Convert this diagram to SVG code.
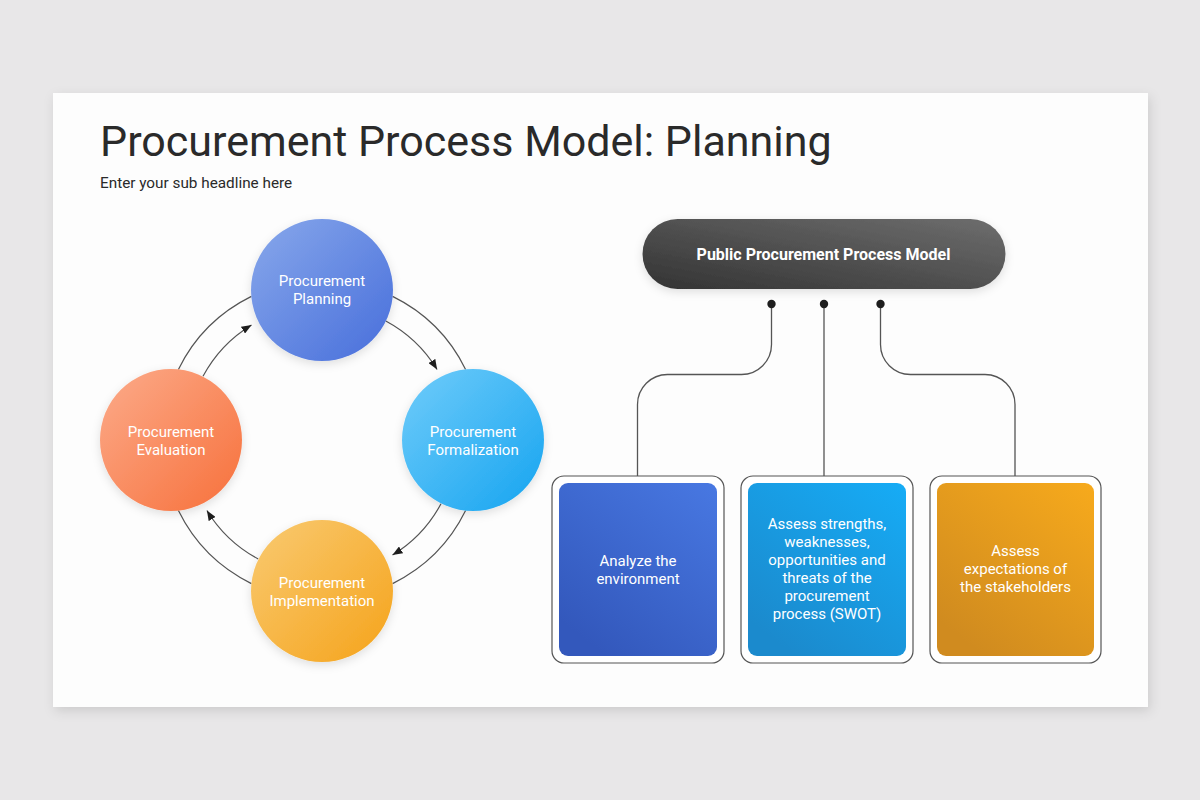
<svg xmlns="http://www.w3.org/2000/svg" width="1200" height="800" viewBox="0 0 1200 800">
<defs>
<style>
.t{font-family:Roboto,"Liberation Sans",sans-serif;}
.ct{font-family:Roboto,"Liberation Sans",sans-serif;font-size:15px;fill:#fff;text-anchor:middle;}
.arc{fill:none;stroke:#555;stroke-width:1.2;}
.con{fill:none;stroke:#555;stroke-width:1.3;}
.frame{fill:#fff;stroke:#555;stroke-width:1.2;}
</style>
<filter id="card" x="-5%" y="-5%" width="110%" height="115%"><feDropShadow dx="2" dy="4" stdDeviation="6" flood-color="#000" flood-opacity="0.12"/></filter>
<filter id="sh" x="-30%" y="-30%" width="160%" height="160%"><feDropShadow dx="0" dy="3" stdDeviation="5" flood-color="#000" flood-opacity="0.12"/></filter>
<linearGradient id="gP" x1="0" y1="0" x2="1" y2="1"><stop offset="0" stop-color="#88a8eb"/><stop offset="1" stop-color="#476edb"/></linearGradient>
<linearGradient id="gF" x1="0" y1="0" x2="1" y2="1"><stop offset="0" stop-color="#70ccfa"/><stop offset="1" stop-color="#15a4f0"/></linearGradient>
<linearGradient id="gE" x1="0" y1="0" x2="1" y2="1"><stop offset="0" stop-color="#fcab8a"/><stop offset="1" stop-color="#f7703b"/></linearGradient>
<linearGradient id="gI" x1="0" y1="0" x2="1" y2="1"><stop offset="0" stop-color="#f9ca72"/><stop offset="1" stop-color="#f5a31a"/></linearGradient>
<linearGradient id="gPill" x1="0" y1="1" x2="1" y2="0"><stop offset="0" stop-color="#333"/><stop offset="1" stop-color="#6e6e6e"/></linearGradient>
<linearGradient id="gB1" x1="1" y1="0" x2="0.3" y2="1"><stop offset="0" stop-color="#4878e2"/><stop offset="1" stop-color="#3358bc"/></linearGradient>
<linearGradient id="gB2" x1="1" y1="0" x2="0.3" y2="1"><stop offset="0" stop-color="#16acf6"/><stop offset="1" stop-color="#1b8acd"/></linearGradient>
<linearGradient id="gB3" x1="1" y1="0" x2="0.3" y2="1"><stop offset="0" stop-color="#f7aa1c"/><stop offset="1" stop-color="#d08b1f"/></linearGradient>
<marker id="ah" viewBox="0 0 10 8" refX="10" refY="4" markerWidth="10" markerHeight="8" markerUnits="userSpaceOnUse" orient="auto"><path d="M0,0 L10,4 L0,8 z" fill="#1e1e1e"/></marker>
</defs>
<rect width="1200" height="800" fill="#e8e7e8"/>
<rect x="53" y="93" width="1095" height="614" fill="#fdfdfd" filter="url(#card)"/>
<text class="t" x="100" y="156" font-size="43" fill="#2a2a2a">Procurement Process Model: Planning</text>
<text class="t" x="100" y="188" font-size="15.3" fill="#2a2a2a">Enter your sub headline here</text>

<g id="connectors">
<path class="arc" d="M392.6,296.4 A160,160 0 0 1 465.6,369.4"/>
<path class="arc" d="M465.6,510.6 A160,160 0 0 1 392.6,583.6"/>
<path class="arc" d="M251.4,583.6 A160,160 0 0 1 178.4,510.6"/>
<path class="arc" d="M178.4,369.4 A160,160 0 0 1 251.4,296.4"/>
<path class="arc" marker-end="url(#ah)" d="M385.8,321 A135,135 0 0 1 437.1,369.5"/>
<path class="arc" marker-end="url(#ah)" d="M441,503.8 A135,135 0 0 1 392.5,555.1"/>
<path class="arc" marker-end="url(#ah)" d="M258.2,559 A135,135 0 0 1 206.9,510.5"/>
<path class="arc" marker-end="url(#ah)" d="M203,376.2 A135,135 0 0 1 251.5,324.9"/>
<path class="con" d="M771.5,304 V344.5 A30,30 0 0 1 741.5,374.5 H667.5 A30,30 0 0 0 637.5,404.5 V476"/>
<path class="con" d="M824,304 V476"/>
<path class="con" d="M880.5,304 V344.5 A30,30 0 0 0 910.5,374.5 H985 A30,30 0 0 1 1015,404.5 V476"/>
<circle cx="771.5" cy="304" r="4.2" fill="#1e1e1e"/>
<circle cx="824" cy="304" r="4.2" fill="#1e1e1e"/>
<circle cx="880.5" cy="304" r="4.2" fill="#1e1e1e"/>
</g>

<g id="node-planning">
<circle cx="322" cy="290" r="71" fill="url(#gP)" filter="url(#sh)"/>
<text class="ct" x="322" y="286">Procurement</text>
<text class="ct" x="322" y="304">Planning</text>
</g>
<g id="node-formalization">
<circle cx="473" cy="440" r="71" fill="url(#gF)" filter="url(#sh)"/>
<text class="ct" x="473" y="437">Procurement</text>
<text class="ct" x="473" y="455">Formalization</text>
</g>
<g id="node-implementation">
<circle cx="322" cy="591" r="71" fill="url(#gI)" filter="url(#sh)"/>
<text class="ct" x="322" y="588">Procurement</text>
<text class="ct" x="322" y="606">Implementation</text>
</g>
<g id="node-evaluation">
<circle cx="171" cy="440" r="71" fill="url(#gE)" filter="url(#sh)"/>
<text class="ct" x="171" y="437">Procurement</text>
<text class="ct" x="171" y="455">Evaluation</text>
</g>

<g id="node-model">
<rect x="642.5" y="219" width="363" height="70" rx="35" fill="url(#gPill)" filter="url(#sh)"/>
<text class="t" x="823.5" y="260" font-size="16" font-weight="bold" fill="#fff" text-anchor="middle">Public Procurement Process Model</text>
</g>

<g id="node-analyze">
<rect class="frame" x="552" y="476" width="172" height="187" rx="12"/>
<rect x="559" y="483" width="158" height="173" rx="9" fill="url(#gB1)"/>
<text class="ct" x="638" y="566">Analyze the</text>
<text class="ct" x="638" y="584">environment</text>
</g>
<g id="node-swot">
<rect class="frame" x="741" y="476" width="172" height="187" rx="12"/>
<rect x="748" y="483" width="158" height="173" rx="9" fill="url(#gB2)"/>
<text class="ct" x="827" y="529">Assess strengths,</text>
<text class="ct" x="827" y="547">weaknesses,</text>
<text class="ct" x="827" y="565">opportunities and</text>
<text class="ct" x="827" y="583">threats of the</text>
<text class="ct" x="827" y="601">procurement</text>
<text class="ct" x="827" y="619">process (SWOT)</text>
</g>
<g id="node-stakeholders">
<rect class="frame" x="930" y="476" width="171" height="187" rx="12"/>
<rect x="937" y="483" width="157" height="173" rx="9" fill="url(#gB3)"/>
<text class="ct" x="1015.5" y="556">Assess</text>
<text class="ct" x="1015.5" y="574">expectations of</text>
<text class="ct" x="1015.5" y="592">the stakeholders</text>
</g>
</svg>
